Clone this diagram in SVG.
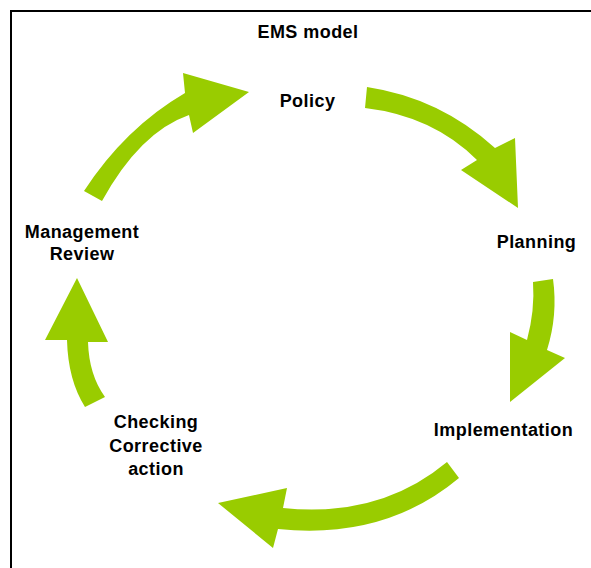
<svg xmlns="http://www.w3.org/2000/svg" width="591" height="568" viewBox="0 0 591 568">
<style>
.lbl{font-family:"Liberation Sans",Arial,sans-serif;font-weight:bold;font-size:18px;fill:#000;text-anchor:middle;letter-spacing:0.45px}
.arr{fill:#99cc00;stroke:none}
.frame{stroke:#000;stroke-width:2;fill:none}
</style>
<rect width="591" height="568" fill="#fff"/>
<path class="frame" d="M11,568 L11,11 L591,11"/>
<g id="title"><text class="lbl" x="308" y="37.5">EMS model</text></g>
<g id="connectors">
<path class="arr" d="M84,191 Q125,128 185,93 L183,73 L249,92 L193,133 L189,115 Q140,132 102,201 Z"/>
<path class="arr" d="M367,87 Q440,98 495,148 L515,138 L518,208 L461,170 L477,160 Q433,116 365,108 Z"/>
<path class="arr" d="M533,282 L553,279 Q558,315 547,350 L565,358 L510,402 L510,332 L527,340 Q535,310 533,282 Z"/>
<path class="arr" d="M447,462 Q380,518 283,508 L287,488 L218,503 L273,548 L278,529 Q385,540 459,478 Z"/>
<path class="arr" d="M85,407 Q68,380 67,340 L45,340 L77,278 L108,342 L88,342 Q89,375 105,397 Z"/>
</g>
<g id="policy"><text class="lbl" x="307.5" y="106.5">Policy</text></g>
<g id="planning"><text class="lbl" x="536.5" y="248">Planning</text></g>
<g id="implementation"><text class="lbl" x="503.5" y="435.5">Implementation</text></g>
<g id="checking"><text class="lbl" x="156" y="428">Checking</text><text class="lbl" x="156" y="452">Corrective</text><text class="lbl" x="156" y="475">action</text></g>
<g id="review"><text class="lbl" x="82" y="238">Management</text><text class="lbl" x="82" y="260">Review</text></g>
</svg>
